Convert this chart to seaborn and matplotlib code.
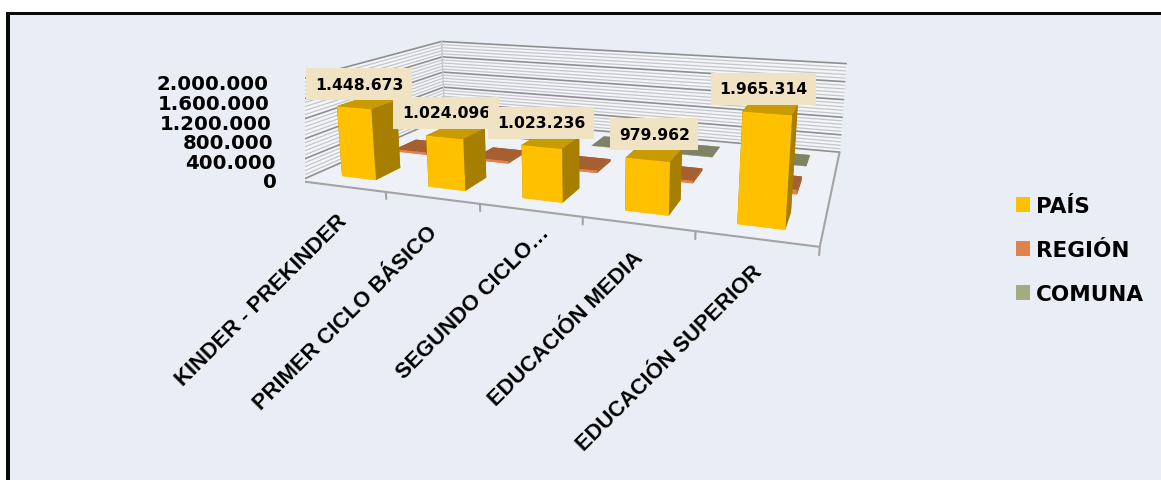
import numpy as np
import matplotlib
matplotlib.use('Agg')
import matplotlib.pyplot as plt
from matplotlib.patches import Patch, Rectangle
from mpl_toolkits.mplot3d import proj3d
import seaborn as sns

categories = ["KINDER - PREKINDER", "PRIMER CICLO BÁSICO", "SEGUNDO CICLO…", "EDUCACIÓN MEDIA", "EDUCACIÓN SUPERIOR"]
series_names = ["PAÍS", "REGIÓN", "COMUNA"]
pais = [1448673, 1024096, 1023236, 979962, 1965314]
region = [50000, 50000, 50000, 50000, 90000]
comuna = [6000, 6000, 6000, 6000, 6000]
pais_labels = ["1.448.673", "1.024.096", "1.023.236", "979.962", "1.965.314"]
z_ticks = [0, 400000, 800000, 1200000, 1600000, 2000000]
z_tick_labels = ["0", "400.000", "800.000", "1.200.000", "1.600.000", "2.000.000"]
z_minor_step = 80000
label_nudge = [(-8, 19), (-10, 19), (-10, 18), (0, 19), (-7, 19)]
category_nudge = [(-7, -8), (-6, -7), (8, 6), (-5, -5), (-4, -3)]

sns.set_theme(style="white")
FONT = ["DejaVu Sans"]
plt.rcParams['font.family'] = FONT
front = sns.color_palette(["#FFC000", "#E0824A", "#A5AB81"])
top = ["#C89B00", "#A55F30", "#7F8265"]
side = ["#A67F00", "#A55F30", "#7F8265"]
BG = "#E9EEF6"; GRID = "#8E8E8E"; GRIDM = "#C4C6CA"; AX = "#A3A3A3"; LABEL = "#F0E3C3"

W, H = 1161, 481
fig = plt.figure(figsize=(W/100, H/100), dpi=100, facecolor="white")
fig.add_artist(Rectangle((8/W, 0), (W-8)/W, (H-14)/H, transform=fig.transFigure, fc=BG, ec="none", zorder=-3))
fig.add_artist(Rectangle((5.5/W, 0), 4.5/W, (H-12.5)/H, transform=fig.transFigure, fc="#0A0A0A", ec="none", zorder=-2))
fig.add_artist(Rectangle((5.5/W, (H-15.5)/H), (W-5.5)/W, 3/H, transform=fig.transFigure, fc="#0A0A0A", ec="none", zorder=-2))

# camera fit to the reference box
k, tx, ty = 2955.5, 585.38, 360.38
S = k*0.185
ax = fig.add_axes([(tx-k*0.095)/W, (ty-k*0.095)/H, S/W, S/H], projection='3d', computed_zorder=False)
ax.patch.set_alpha(0)
ax.set_axis_off()
ax.set_xlim(0, 5); ax.set_ylim(0, 3); ax.set_zlim(0, 2000000)
ax.set_box_aspect((4.9826, 2.9030, 1))
ax.set_proj_type('persp', focal_length=0.27613)
ax.view_init(elev=13.61, azim=-70.2, roll=0)
zmax = 2000000; n = len(categories)
M = ax.get_proj()

def p2(x, y, z, dx=0, dy=0):
    px, py, _ = proj3d.proj_transform(x, y, z, M)
    return px + dx/k, py + dy/k

# walls
ax.plot_surface(np.array([[0, n], [0, n]]), np.array([[3, 3], [3, 3]]), np.array([[0, 0], [zmax, zmax]]),
                color="#F3F5F9", shade=False, zorder=1, linewidth=0)
ax.plot_surface(np.array([[0, 0], [0, 0]]), np.array([[0, 3], [0, 3]]), np.array([[0, 0], [zmax, zmax]]),
                color="#F3F5F9", shade=False, zorder=1, linewidth=0)
ax.plot_surface(np.array([[0, n], [0, n]]), np.array([[0, 0], [3, 3]]), np.zeros((2, 2)),
                color="#EEF2F8", shade=False, zorder=1, linewidth=0)
for z in np.arange(0, zmax+1, z_minor_step):
    major = z in z_ticks
    ax.plot([0, 0, n], [0, 3, 3], [z, z, z], color=GRID if major else GRIDM, lw=1.2 if major else 0.9, zorder=3 if major else 2)
ax.plot([0, 0], [3, 3], [0, zmax], color=GRIDM, lw=1.0, zorder=3)
ax.plot([0, 0], [0, 0], [0, zmax], color=AX, lw=1.2, zorder=3)
ax.plot([0, n, n], [0, 0, 3], [0, 0, 0], color=AX, lw=1.5, zorder=4)
for i in range(n+1):
    ax.plot([i, i], [0, 0], [0, -140000], color=AX, lw=1.5, zorder=4)
for z, lab in zip(z_ticks, z_tick_labels):
    ax.plot([-0.08, 0], [0, 0], [z, z], color=AX, lw=1.5, zorder=4)
    px, py = p2(-0.27, 0, z, dy=-3.2)
    ax.text2D(px, py, lab, transform=ax.transData, ha='right', va='center', fontsize=14.2, fontweight='bold', color="black", zorder=30)

# bars
bw, bd, x0, y0 = 0.40, 0.46, 0.30, 0.29
zo = 5
for j, vals in reversed(list(enumerate([pais, region, comuna]))):
    for i, v in enumerate(vals):
        ax.bar3d(i+x0, j+y0, 0, bw, bd, v, shade=False, linewidth=0, zorder=zo,
                 color=[front[j], top[j], front[j], side[j], side[j], side[j]])
        zo += 1

# labels
for i, (v, lab, nd) in enumerate(zip(pais, pais_labels, label_nudge)):
    ax.annotate(lab, xy=p2(i+x0+bw/2, y0+bd/2, v), xycoords='data', xytext=nd, textcoords='offset pixels',
                ha='center', va='center', fontsize=11.25, fontweight='bold', color="black", annotation_clip=False,
                zorder=40+i, bbox=dict(boxstyle="square,pad=0.55", fc=LABEL, ec="none"))
for i, (c, nd) in enumerate(zip(categories, category_nudge)):
    px, py = p2(i+0.5, 0, -330000, dx=nd[0], dy=nd[1])
    ax.text2D(px, py, c, transform=ax.transData, rotation=45, rotation_mode='anchor', ha='right', va='top',
              fontsize=15.75, fontweight='bold', family="Liberation Sans", color="black", zorder=30)

fig.legend(handles=[Patch(fc=c, ec="none", label=s) for c, s in zip(front, series_names)],
           loc='center left', bbox_to_anchor=(996.6/W, 1-251/H), frameon=False, handlelength=0.65, handleheight=0.65,
           handletextpad=0.28, labelspacing=1.11, prop=dict(size=15.5, weight='bold', family=FONT), labelcolor="black")
fig.savefig("out.png", dpi=100)
